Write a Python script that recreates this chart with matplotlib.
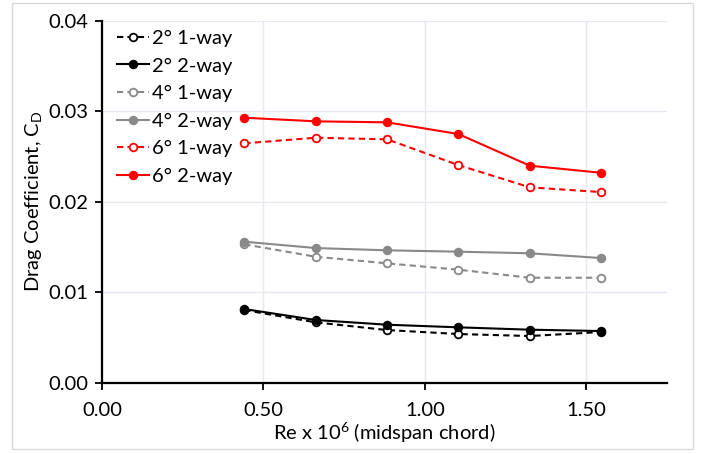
import matplotlib
matplotlib.use('Agg')
import matplotlib.pyplot as plt
from matplotlib.patches import Rectangle

plt.rcParams['font.family'] = ['Lato', 'DejaVu Sans']
plt.rcParams['mathtext.fontset'] = 'custom'
plt.rcParams['mathtext.rm'] = 'Lato'
plt.rcParams['mathtext.it'] = 'Lato:italic'

# Reynolds number (x 10^6, midspan chord)
re = [0.441, 0.662, 0.883, 1.104, 1.325, 1.545]

# drag coefficient per pitch angle and coupling
cd_2deg_1way = [0.00803, 0.00667, 0.00582, 0.00538, 0.00516, 0.00560]
cd_2deg_2way = [0.00814, 0.00693, 0.00641, 0.00612, 0.00586, 0.00571]
cd_4deg_1way = [0.01529, 0.01392, 0.01319, 0.01249, 0.01160, 0.01160]
cd_4deg_2way = [0.01558, 0.01488, 0.01463, 0.01448, 0.01430, 0.01378]
cd_6deg_1way = [0.02645, 0.02707, 0.02689, 0.02405, 0.02159, 0.02107]
cd_6deg_2way = [0.02928, 0.02888, 0.02877, 0.02748, 0.02398, 0.02320]

series = [
    ("2° 1-way", cd_2deg_1way, "black", "--", False),
    ("2° 2-way", cd_2deg_2way, "black", "-", True),
    ("4° 1-way", cd_4deg_1way, "#898989", "--", False),
    ("4° 2-way", cd_4deg_2way, "#898989", "-", True),
    ("6° 1-way", cd_6deg_1way, "#ff0000", "--", False),
    ("6° 2-way", cd_6deg_2way, "#ff0000", "-", True),
]

fig = plt.figure(figsize=(7.04, 4.54), dpi=100)
ax = fig.add_axes([0.1449, 0.157, 0.8025, 0.7974])

# light border round the whole chart
fig.patches.append(Rectangle((12 / 704, 5 / 454), 681 / 704, 446 / 454,
                             transform=fig.transFigure, fill=False,
                             edgecolor='#d9d9d9', linewidth=1))

for label, vals, color, ls, filled in series:
    ax.plot(re, vals, linestyle=ls, color=color, linewidth=1.5,
            marker='o', markersize=5.5, markeredgewidth=1.3,
            markerfacecolor=color if filled else 'white',
            markeredgecolor=color, label=label,
            dashes=(3, 2) if ls == "--" else (None, None))

ax.set_xlim(0, 1.75)
ax.set_ylim(0, 0.04)
ax.set_xticks([0, 0.5, 1.0, 1.5])
ax.set_yticks([0, 0.01, 0.02, 0.03, 0.04])
ax.xaxis.set_major_formatter(plt.FormatStrFormatter('%.2f'))
ax.yaxis.set_major_formatter(plt.FormatStrFormatter('%.2f'))
ax.tick_params(axis='both', direction='out', length=5, width=1.3,
               labelsize=14.5, colors='black')
ax.tick_params(axis='x', pad=9)
ax.tick_params(axis='y', pad=5)

ax.grid(True, color='#e6e9f0', linewidth=1)
ax.set_axisbelow(True)
for side in ['top', 'right']:
    ax.spines[side].set_visible(False)
for side in ['left', 'bottom']:
    ax.spines[side].set_linewidth(1.6)

ax.set_xlabel("Re x 10$^{6}$ (midspan chord)", fontsize=14.5, labelpad=1)
ax.set_ylabel("Drag Coefficient, C$_{\\mathrm{D}}$", fontsize=14.5, labelpad=3)

ax.legend(loc='upper left', frameon=False, fontsize=14.5,
          handlelength=1.6, handletextpad=0.15, labelspacing=0.52,
          borderaxespad=0.0, bbox_to_anchor=(0.012, 0.997))

fig.savefig("out.png", dpi=100)
